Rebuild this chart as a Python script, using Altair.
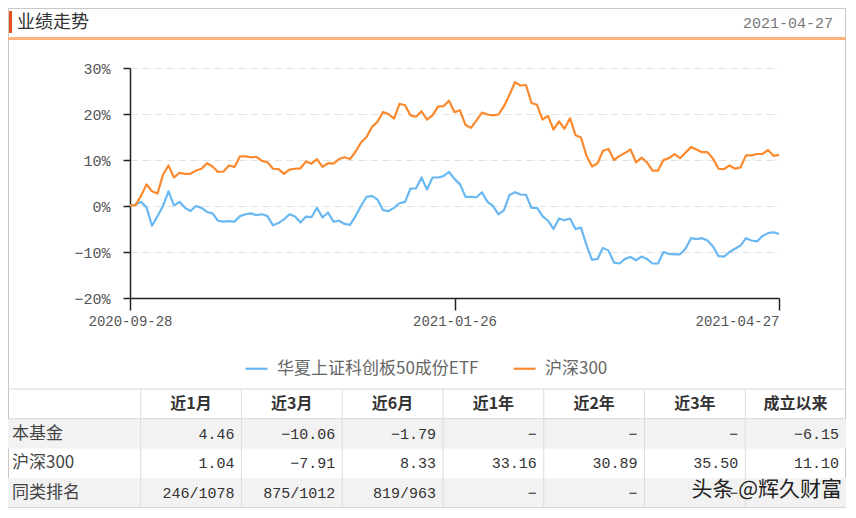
import altair as alt
import pandas as pd

# ---------------- data ----------------
TITLE = "业绩走势"
AS_OF = "2021-04-27"
SERIES = ["华夏上证科创板50成份ETF", "沪深300"]

FUND = [0.1, 0.3, 0.9, -0.3, -4.3, -2.2, 0.0, 3.2, 0.1, 0.9,
        -0.4, -1.1, 0.0, -0.4, -1.3, -1.6, -3.2, -3.4, -3.3, -3.4,
        -2.2, -1.8, -1.6, -2.0, -1.8, -2.2, -4.2, -3.7, -2.9, -1.8,
        -2.3, -3.6, -2.3, -2.4, -0.4, -2.5, -1.4, -3.4, -3.2, -3.9,
        -4.1, -2.2, 0.0, 2.0, 2.2, 1.4, -0.9, -1.1, -0.4, 0.6,
        0.9, 3.8, 3.8, 6.2, 3.6, 6.2, 6.2, 6.5, 7.4, 5.9,
        4.7, 2.0, 2.0, 1.9, 3.0, 0.9, 0.0, -1.8, -0.9, 2.4,
        3.0, 2.5, 2.4, -0.4, -0.4, -2.2, -3.2, -5.0, -2.7, -3.1,
        -2.7, -5.0, -4.7, -8.5, -11.7, -11.5, -9.1, -9.7, -12.3, -12.5,
        -11.5, -11.1, -11.8, -11.0, -11.5, -12.5, -12.5, -10.0, -10.4, -10.5,
        -10.5, -9.3, -7.0, -7.2, -7.0, -7.5, -8.8, -10.9, -11.0, -10.0,
        -9.3, -8.6, -7.0, -7.5, -7.7, -6.5, -5.9, -5.7, -6.1]

HS300 = [0.1, 0.2, 2.2, 4.7, 3.2, 2.7, 6.8, 8.8, 6.2, 7.2,
         7.0, 7.0, 7.7, 8.1, 9.3, 8.6, 7.4, 7.5, 8.8, 8.5,
         10.8, 10.8, 10.6, 10.7, 9.8, 9.5, 8.1, 8.0, 7.0, 7.9,
         8.1, 8.2, 9.7, 9.2, 10.2, 8.5, 9.3, 9.2, 10.2, 10.6,
         10.2, 11.8, 13.8, 15.0, 17.2, 18.3, 20.4, 20.0, 19.0, 22.2,
         21.9, 19.7, 19.4, 20.6, 18.8, 19.7, 21.6, 21.7, 22.9, 20.4,
         20.8, 17.6, 17.0, 18.6, 20.3, 19.9, 19.7, 19.9, 21.7, 24.2,
         26.9, 26.2, 26.3, 22.4, 22.0, 18.8, 19.6, 16.6, 18.4, 16.8,
         19.1, 15.4, 14.9, 10.9, 8.6, 9.3, 12.0, 12.4, 10.0, 10.9,
         11.5, 12.3, 9.5, 10.5, 9.5, 7.7, 7.7, 10.0, 10.4, 11.3,
         10.4, 11.6, 12.8, 12.3, 11.7, 11.7, 10.3, 8.1, 8.0, 8.8,
         8.1, 8.4, 11.0, 11.0, 11.3, 11.3, 12.2, 10.9, 11.1]

TICK_LABELS = ["2020-09-28", "2021-01-26", "2021-04-27"]
Y_TICKS = [-20, -10, 0, 10, 20, 30]

PERIODS = ["近1月", "近3月", "近6月", "近1年", "近2年", "近3年", "成立以来"]
ROWS = ["本基金", "沪深300", "同类排名"]
FUND_RET = [4.46, -10.06, -1.79, None, None, None, -6.15]
HS300_RET = [1.04, -7.91, 8.33, 33.16, 30.89, 35.50, 11.10]
RANKS = ["246/1078", "875/1012", "819/963", None, None, None, None]
WATERMARK = "头条 @辉久财富"

# ---------------- layout ----------------
BLUE = "#6ab8f2"
ORANGE = "#fb8a2e"
CJK = "Noto Sans CJK SC"
MONO = "Liberation Mono"

PLOT_X0, PLOT_Y0 = 130, 68          # absolute page position of plot origin
W, H = 649, 230
CHART_L, CHART_T, CHART_R, CHART_B = 8, 8, 846, 508
PAD = {"left": PLOT_X0 - CHART_L, "top": PLOT_Y0 - CHART_T,
       "right": CHART_R - (PLOT_X0 + W), "bottom": CHART_B - (PLOT_Y0 + H)}


def rx(X):
    return X - PLOT_X0


def ry(Y):
    return Y - PLOT_Y0


one = pd.DataFrame({"t": [0]})

# ---------------- line chart ----------------
n = len(FUND)
df_lines = pd.DataFrame({
    "i": list(range(n)) * 2,
    "v": FUND + HS300,
    "s": [SERIES[0]] * n + [SERIES[1]] * n,
})
tick_idx = [0, (n - 1) // 2, n - 1]
label_expr = (f"datum.value == {tick_idx[0]} ? '{TICK_LABELS[0]}' : "
              f"datum.value == {tick_idx[1]} ? '{TICK_LABELS[1]}' : '{TICK_LABELS[2]}'")

lines = alt.Chart(df_lines).mark_line(strokeWidth=2.2, strokeJoin="round").encode(
    x=alt.X("i:Q", scale=alt.Scale(domain=[0, n - 1], nice=False, zero=False),
            axis=alt.Axis(values=tick_idx, labelExpr=label_expr, title=None, grid=False,
                          tickSize=12, tickWidth=1.5, tickColor="#222", domainColor="#222",
                          domainWidth=1.5, labelPadding=4, labelFont=MONO, labelFontSize=14,
                          labelColor="#555",
                          labelAlign={"condition": {"test": f"datum.value == {n - 1}", "value": "right"},
                                      "value": "center"})),
    y=alt.Y("v:Q", scale=alt.Scale(domain=[-20, 30], nice=False),
            axis=alt.Axis(values=Y_TICKS, labelExpr="format(datum.value, 'd') + '%'", title=None,
                          grid=True, gridColor="#e4e4e4", gridDash=[8, 4], gridWidth=1,
                          tickSize=7, tickWidth=1.5, tickColor="#222", domainColor="#222",
                          domainWidth=1.5, labelPadding=13, labelFont=MONO, labelFontSize=15,
                          labelColor="#555")),
    color=alt.Color("s:N", scale=alt.Scale(domain=SERIES, range=[BLUE, ORANGE]),
                    legend=alt.Legend(title=None, orient="none", direction="horizontal",
                                      legendX=rx(244), legendY=ry(356), symbolType="stroke",
                                      symbolSize=484, symbolStrokeWidth=2.2, labelFont=CJK,
                                      labelFontSize=17, labelColor="#666", labelOffset=8,
                                      labelLimit=400, columnPadding=30, padding=0)),
    detail="s:N",
)

# ---------------- header ----------------
border = alt.Chart(one).mark_rect(fillOpacity=0, stroke="#c8c8c8", strokeWidth=1).encode(
    x=alt.value(rx(CHART_L) + 0.5), x2=alt.value(rx(CHART_R) - 0.5),
    y=alt.value(ry(CHART_T) + 0.5), y2=alt.value(ry(CHART_B) - 0.5))

bar = alt.Chart(one).mark_rect(color="#e6501c").encode(
    x=alt.value(rx(9)), x2=alt.value(rx(12)), y=alt.value(ry(11)), y2=alt.value(ry(33)))

title = alt.Chart(pd.DataFrame({"t": [TITLE]})).mark_text(
    align="left", baseline="middle", font=CJK, fontSize=18, color="#333").encode(
    x=alt.value(rx(17)), y=alt.value(ry(23)), text="t:N")

date = alt.Chart(pd.DataFrame({"t": [AS_OF]})).mark_text(
    align="right", baseline="middle", font=MONO, fontSize=15, color="#777").encode(
    x=alt.value(rx(833)), y=alt.value(ry(23)), text="t:N")

hline = alt.Chart(one).mark_rect(color="#ffb27e").encode(
    x=alt.value(rx(CHART_L)), x2=alt.value(rx(CHART_R)), y=alt.value(ry(37)), y2=alt.value(ry(40)))

# ---------------- table ----------------
ROW_KEYS = ["表头"] + ROWS
TBL_TOP, TBL_BOT = 389, CHART_B
COL0_RIGHT = 140.7
COL_W = (CHART_R - COL0_RIGHT) / len(PERIODS)
xs = alt.Scale(domain=PERIODS, range=[rx(COL0_RIGHT), rx(CHART_R)], paddingInner=0, paddingOuter=0)
ys = alt.Scale(domain=ROW_KEYS, range=[ry(TBL_TOP), ry(TBL_BOT)], paddingInner=0, paddingOuter=0)


def fmt(v):
    if v is None:
        return "−"
    return f"{v:.2f}".replace("-", "−")


cells = []
for c, p in enumerate(PERIODS):
    cells.append({"row": ROWS[0], "col": p, "txt": fmt(FUND_RET[c])})
    cells.append({"row": ROWS[1], "col": p, "txt": fmt(HS300_RET[c])})
    cells.append({"row": ROWS[2], "col": p, "txt": RANKS[c] if RANKS[c] else "−"})
df_cells = pd.DataFrame(cells)
df_head = pd.DataFrame({"row": ["表头"] * len(PERIODS), "col": PERIODS})
df_rows = pd.DataFrame({"row": ROWS})
df_shade = pd.DataFrame({"row": ROWS[::2]})

row_bg = alt.Chart(df_shade).mark_rect(color="#f2f2f2").encode(
    y=alt.Y("row:N", scale=ys, axis=None),
    x=alt.value(rx(CHART_L)), x2=alt.value(rx(CHART_R)))

hrules_top = alt.Chart(pd.DataFrame({"row": ["表头", ROWS[0]]})).mark_rule(color="#d6d6d6", strokeWidth=1).encode(
    y=alt.Y("row:N", scale=ys, axis=None, bandPosition=0),
    x=alt.value(rx(CHART_L)), x2=alt.value(rx(CHART_R)))

hrule_bot = alt.Chart(pd.DataFrame({"row": [ROWS[-1]]})).mark_rule(color="#bdbdbd", strokeWidth=1).encode(
    y=alt.Y("row:N", scale=ys, axis=None, bandPosition=1),
    x=alt.value(rx(CHART_L)), x2=alt.value(rx(CHART_R)))

vrules = alt.Chart(pd.DataFrame({"col": PERIODS})).mark_rule(color="#dcdcdc", strokeWidth=1).encode(
    x=alt.X("col:N", scale=xs, axis=None, bandPosition=0),
    y=alt.value(ry(TBL_TOP)), y2=alt.value(ry(TBL_BOT)))

head_text = alt.Chart(df_head).mark_text(
    align="center", baseline="middle", font=CJK, fontSize=16, fontWeight="bold", color="#333").encode(
    x=alt.X("col:N", scale=xs, axis=None),
    y=alt.Y("row:N", scale=ys, axis=None),
    text="col:N")

label_text = alt.Chart(df_rows).mark_text(
    align="left", baseline="middle", font=CJK, fontSize=17, color="#444").encode(
    x=alt.value(rx(12)),
    y=alt.Y("row:N", scale=ys, axis=None),
    text="row:N")

cell_text = alt.Chart(df_cells).mark_text(
    align="right", baseline="middle", font=MONO, fontSize=15, color="#333",
    dx=COL_W / 2 - 7).encode(
    x=alt.X("col:N", scale=xs, axis=None),
    y=alt.Y("row:N", scale=ys, axis=None),
    text="txt:N")

wm = alt.Chart(pd.DataFrame({"t": [WATERMARK]})).mark_text(
    align="right", baseline="middle", font=CJK, fontSize=21, color="#222").encode(
    x=alt.value(rx(842)), y=alt.value(ry(490)), text="t:N")

chart = alt.layer(
    border, bar, title, date, hline,
    row_bg, hrules_top, hrule_bot, vrules, head_text, label_text, cell_text,
    lines, wm,
).resolve_scale(
    x="independent", y="independent", color="independent"
).properties(
    width=W, height=H, padding=PAD,
    autosize=alt.AutoSizeParams(type="none"),
    background="white",
).configure_view(stroke=None)

chart.save("out.html", embed_options={"renderer": "svg", "actions": False})
